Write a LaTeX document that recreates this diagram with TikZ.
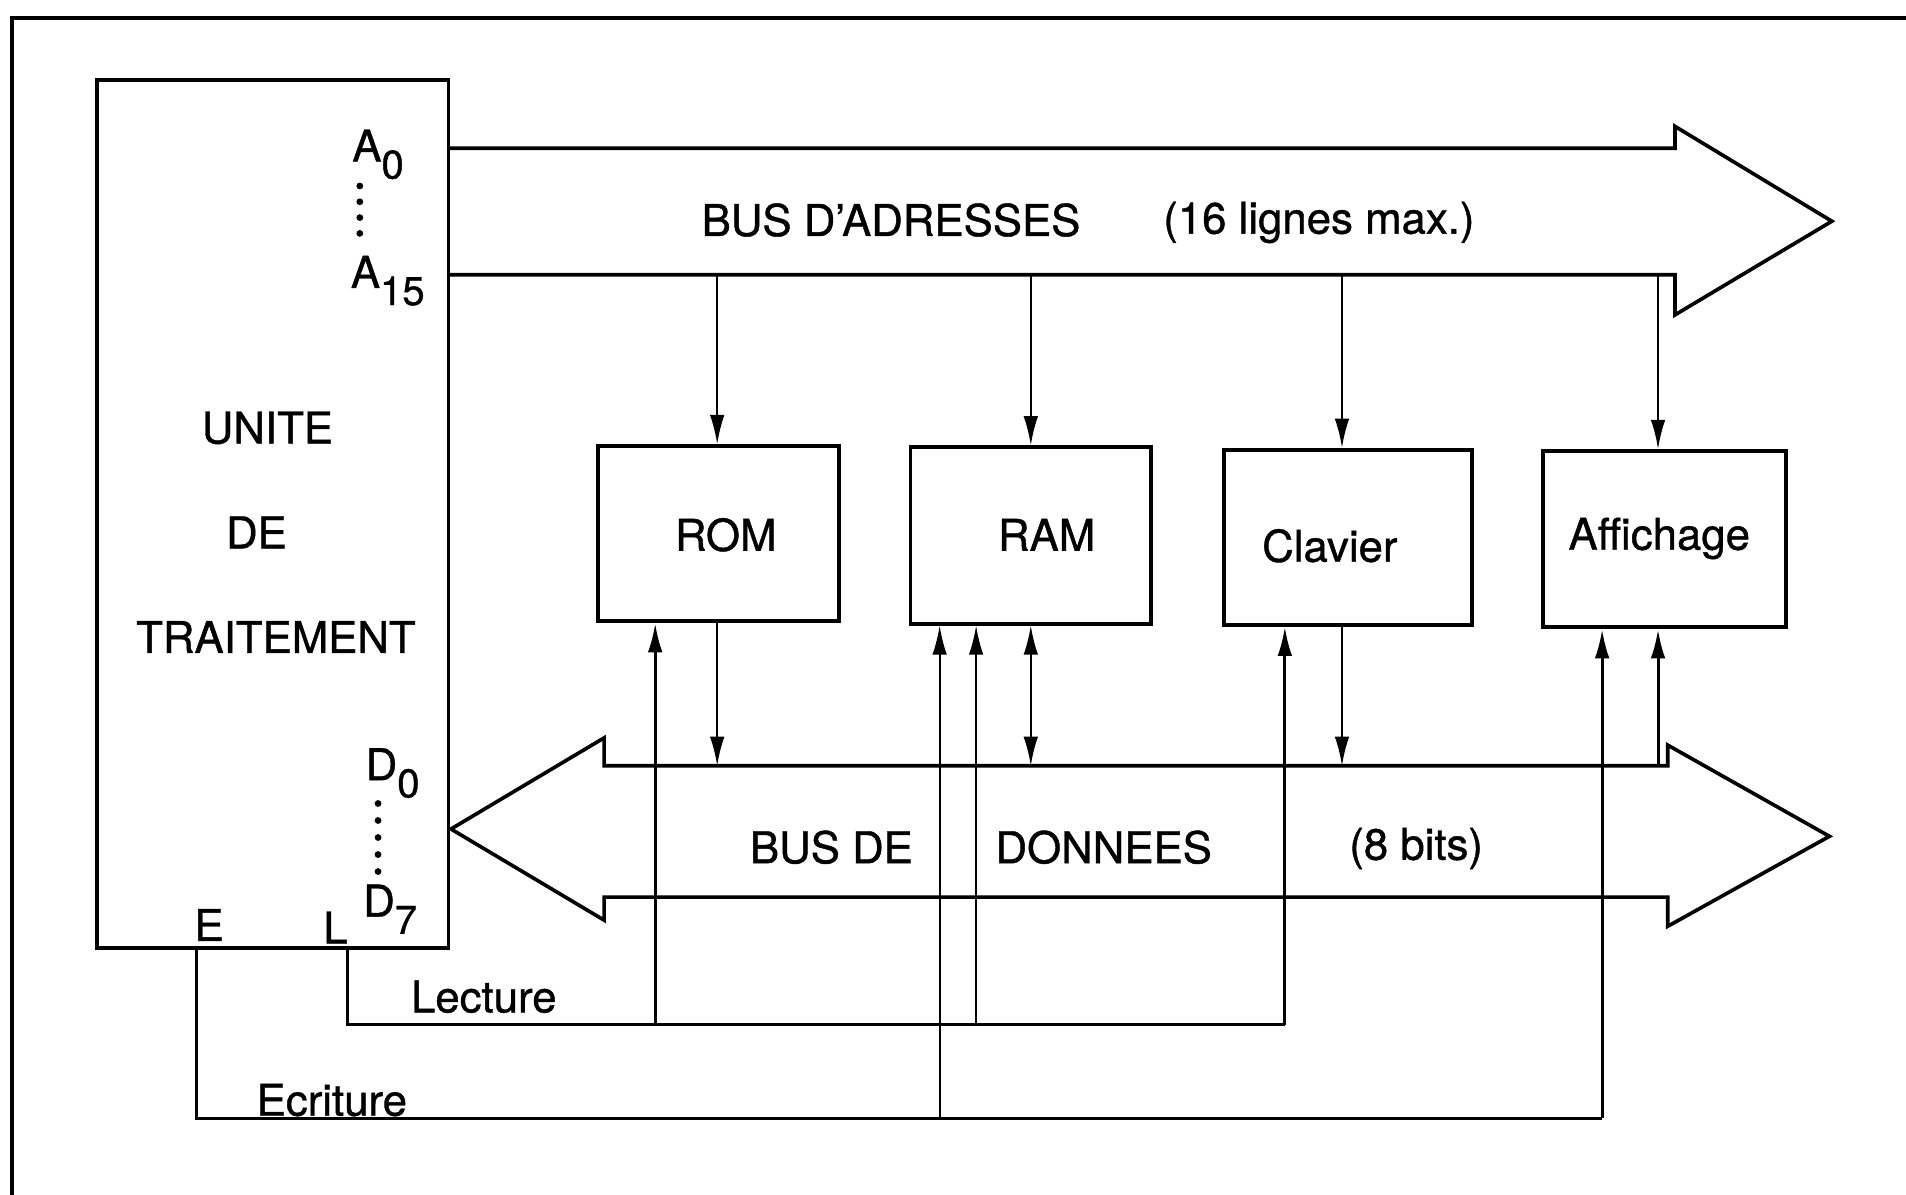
\documentclass[tikz,border=0pt]{standalone}
\usepackage{fontspec}
\setmainfont{TeX Gyre Heros}[FakeBold=0.9]
\usetikzlibrary{arrows.meta}
\newcommand{\pinsub}[2]{#1\raisebox{-0.75ex}{\fontsize{16.5}{16.5}\selectfont #2}}
\begin{document}
\begin{tikzpicture}[x=0.5pt,y=-0.5pt, font=\fontsize{18}{21}\selectfont,
 frame/.style={line width=1.6pt},
 blk/.style={draw, line width=1.6pt, inner sep=0pt},
 bus/.style={line width=1.5pt, line join=miter},
 sig/.style={line width=1.2pt},
 thinline/.style={line width=0.9pt},
 tip/.style={-{Latex[length=12pt,width=6pt]}},
 dtip/.style={{Latex[length=12pt,width=6pt]}-{Latex[length=12pt,width=6pt]}},
 lbl/.style={inner sep=0pt, anchor=center},
 dotmark/.style={fill, circle, inner sep=0pt, minimum size=2.8pt}]
\useasboundingbox (0,0) rectangle (1568,983);
\fill[white] (0,0) rectangle (1568,983);
\draw[frame] (10,983) -- (10,15) -- (1568,15);

% blocks
\node[blk, minimum width=144.5pt, minimum height=357pt] (ut) at (224.5,423) {};
\node[blk, minimum width=99pt, minimum height=72pt] (rom) at (591,439) {};
\node[blk, minimum width=99pt, minimum height=72.5pt] (ram) at (848,440.5) {};
\node[blk, minimum width=102pt, minimum height=72pt] (clav) at (1109,442) {};
\node[blk, minimum width=100pt, minimum height=72.5pt] (aff) at (1369,443.5) {};

% block texts
\node[lbl] (utl1) at (220,352) {UNITE};
\node[lbl] (utl2) at (211,438) {DE};
\node[lbl] (utl3) at (227,524) {TRAITEMENT};
\node[lbl] (romt) at (597,440) {ROM};
\node[lbl] (ramt) at (861,440) {RAM};
\node[lbl] (clavt) at (1094,449) {Clavier};
\node[lbl] (afft) at (1365,443) {Affichage};

% pin labels
\node[lbl] (pa0) at (311,127) {\pinsub{A}{0}};
\node[lbl] (pa15) at (319,231) {\pinsub{A}{15}};
\node[lbl] (pd0) at (323,636) {\pinsub{D}{0}};
\node[lbl] (pd7) at (321,748) {\pinsub{D}{7}};
\node[lbl] (pe) at (172,761) {E};
\node[lbl] (pl) at (276,763) {L};
\foreach \yy [count=\i] in {153,166,179,192} \node[dotmark] (ad\i) at (296,\yy) {};
\foreach \yy [count=\i] in {661,675,689,703,717} \node[dotmark] (dd\i) at (311,\yy) {};

% address bus
\coordinate (abt) at (369,122);
\coordinate (abb) at (369,226);
\draw[bus] (abt) -- (1378,122) -- (1378,104) -- (1507,182) -- (1378,259) -- (1378,226) -- (abb);
\node[lbl] (abl) at (733,181) {BUS D'ADRESSES};
\node[lbl] (abl2) at (1085,183) {(16 lignes max.)};

% data bus
\draw[bus] (371,682) -- (497,607) -- (497,630) -- (1372,630) -- (1372,613) -- (1505,688) -- (1372,762) -- (1372,738) -- (497,738) -- (497,757) -- cycle;
\node[lbl] (dbl1) at (684,697) {BUS DE};
\node[lbl] (dbl2) at (908,697) {DONNEES};
\node[lbl] (dbl3) at (1165,698) {(8 bits)};

% address taps
\coordinate (t1) at (590,226);
\coordinate (t2) at (848,226);
\coordinate (t3) at (1104,226);
\coordinate (t4) at (1364,226);
\draw[thinline,tip] (t1) -- (t1 |- rom.north);
\draw[thinline,tip] (t2) -- (t2 |- ram.north);
\draw[thinline,tip] (t3) -- (t3 |- clav.north);
\draw[thinline,tip] (t4) -- (t4 |- aff.north);

% data taps
\coordinate (d1) at (590,630);
\coordinate (d2) at (848,630);
\coordinate (d3) at (1104,630);
\coordinate (d4) at (1364,630);
\draw[thinline,tip] (d1 |- rom.south) -- (d1);
\draw[thinline,dtip] (d2 |- ram.south) -- (d2);
\draw[thinline,tip] (d3 |- clav.south) -- (d3);
\draw[sig,tip] (d4) -- (d4 |- aff.south);

% lecture
\coordinate (lc) at (286,843);
\coordinate (le) at (1057,843);
\coordinate (l1) at (539,843);
\coordinate (l2) at (803,843);
\draw[sig] (ut.south -| lc) -- (lc) -- (le);
\draw[sig,tip] (le) -- (le |- clav.south);
\draw[sig,tip] (l1) -- (l1 |- rom.south);
\draw[thinline,tip] (l2) -- (l2 |- ram.south);
\node[lbl] (lect) at (398,820) {Lecture};

% ecriture
\coordinate (ec) at (162,920);
\coordinate (ee) at (1318,920);
\coordinate (e1) at (773,920);
\draw[sig] (ut.south -| ec) -- (ec) -- (ee);
\draw[sig,tip] (ee) -- (ee |- aff.south);
\draw[thinline,tip] (e1) -- (e1 |- ram.south);
\node[lbl] (ecr) at (273,905) {Ecriture};
\end{tikzpicture}
\end{document}
